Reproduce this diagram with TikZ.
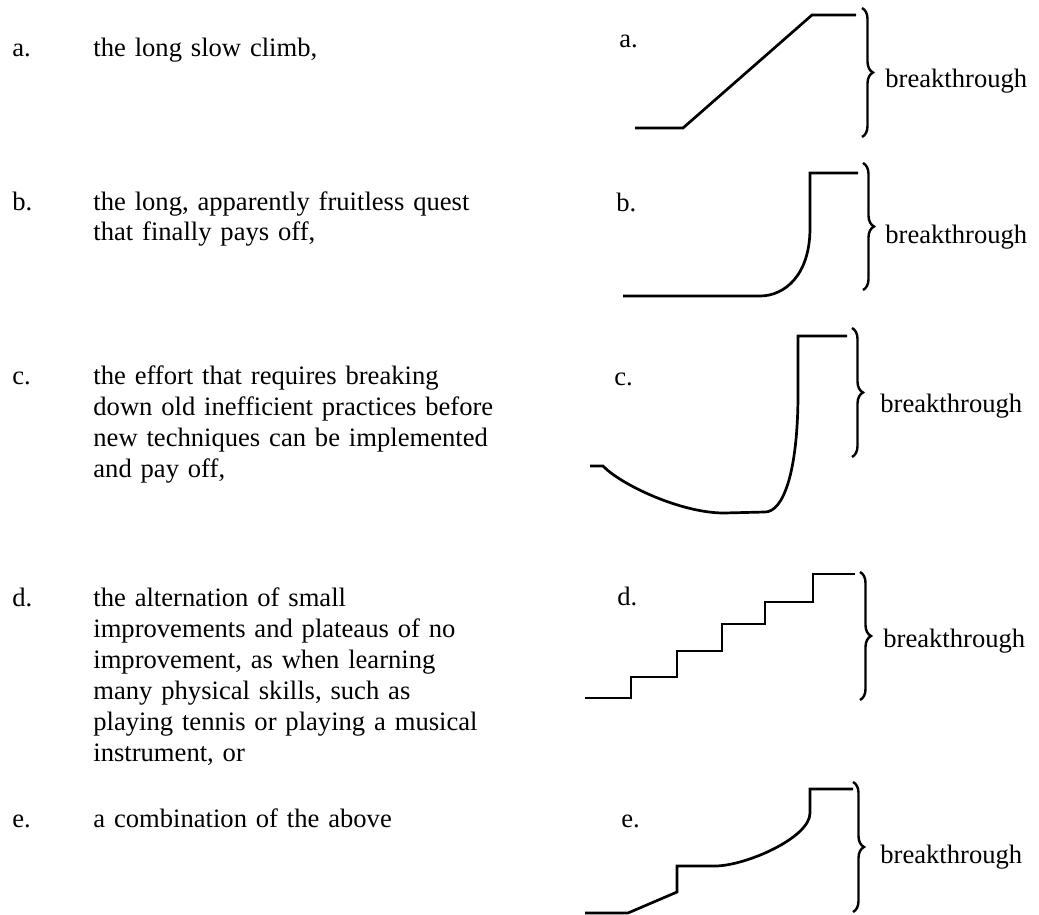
\documentclass[tikz,border=0pt]{standalone}
\usepackage{fontspec}
\setmainfont{Liberation Serif}
\usetikzlibrary{decorations.pathreplacing}

\tikzset{
  curve/.style={line width=1.35pt, line join=miter},
  brc/.style={decorate, decoration={brace, amplitude=5.5pt}, line width=1.2pt},
  txt/.style={anchor=base west, inner sep=0pt, font=\fontsize{13.3}{15.5}\selectfont},
  para/.style={txt, text width=215pt, align=left},
}

\begin{document}
\begin{tikzpicture}[x=0.5pt, y=-0.5pt]
            \useasboundingbox (0,0) rectangle (1039,915);
            % the list on the left
            \node[txt] (lbl-a) at (12,57) {a.};
            \node[para] (txt-a) at (93,57) {the long slow climb,};
            \node[txt] (lbl-b) at (12,210) {b.};
            \node[para] (txt-b) at (93,210) {the long, apparently fruitless quest\\that finally pays off,};
            \node[txt] (lbl-c) at (12,384) {c.};
            \node[para] (txt-c) at (93,384) {the effort that requires breaking\\down old inefficient practices before\\new techniques can be implemented\\and pay off,};
            \node[txt] (lbl-d) at (12,606) {d.};
            \node[para] (txt-d) at (93,606) {the alternation of small\\improvements and plateaus of no\\improvement, as when learning\\many physical skills, such as\\playing tennis or playing a musical\\instrument, or};
            \node[txt] (lbl-e) at (12,827) {e.};
            \node[para] (txt-e) at (93,827) {a combination of the above};

            % the curves on the right (a: slow climb)
            \node[txt] (tag-a) at (619,48) {a.};
            \draw[curve] (635,128) -- (683,128) -- (812,15) -- (856,15);
            \draw[brc] (862,8) -- (862,137);
            \node[txt] (brk-a) at (885,88) {breakthrough};

            % b: fruitless quest
            \node[txt] (tag-b) at (616,212) {b.};
            \draw[curve] (623,296) -- (760,296) .. controls (784,296) and (810,276) .. (810,228)
                -- (810,173) -- (858,173);
            \draw[brc] (863,163) -- (863,290);
            \node[txt] (brk-b) at (885,243) {breakthrough};

            % c: breaking down first
            \node[txt] (tag-c) at (614,385) {c.};
            \draw[curve] (590,466) -- (603,466) .. controls (620,484) and (680,513) .. (724,513)
                -- (765,512) .. controls (783,512) and (798,473) .. (798,393)
                -- (798,336) -- (847,336);
            \draw[brc] (852,328) -- (852,457);
            \node[txt] (brk-c) at (880,412) {breakthrough};

            % d: steps and plateaus
            \node[txt] (tag-d) at (617,605) {d.};
            \draw[curve] (585,698) -- (631,698) -- (631,677) -- (677,677) -- (677,651)
                -- (722,651) -- (722,624) -- (765,624) -- (765,602) -- (813,602)
                -- (813,574) -- (855,574);
            \draw[brc] (860,572) -- (860,700);
            \node[txt] (brk-d) at (883,647) {breakthrough};

            % e: combination
            \node[txt] (tag-e) at (621,827) {e.};
            \draw[curve] (585,913) -- (628,913) -- (677,892) -- (677,866) -- (715,866)
                .. controls (745,866) and (810,838) .. (810,813) -- (810,789) -- (853,789);
            \draw[brc] (853,782) -- (853,912);
            \node[txt] (brk-e) at (880,863) {breakthrough};
        \end{tikzpicture}
\end{document}
